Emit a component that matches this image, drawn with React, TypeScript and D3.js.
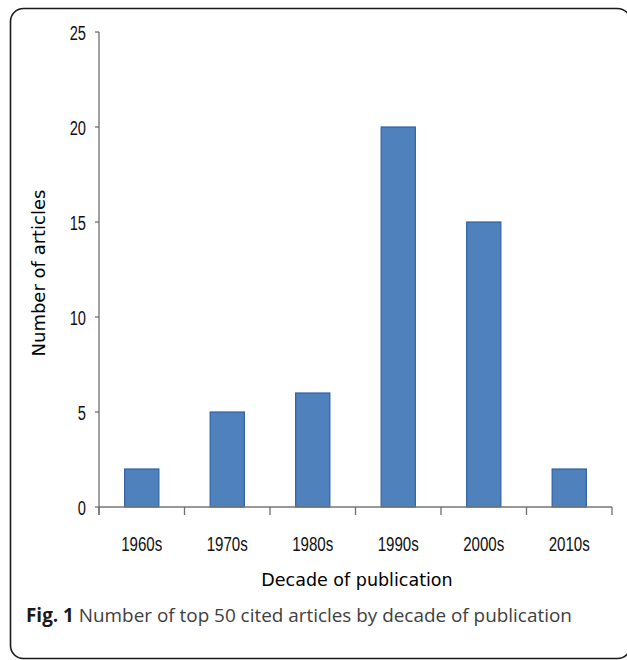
import React from "react";
import * as d3 from "d3";

const categories = ["1960s", "1970s", "1980s", "1990s", "2000s", "2010s"];
const counts = [2, 5, 6, 20, 15, 2];
const yTicks = [0, 5, 10, 15, 20, 25];
const yTitle = "Number of articles";
const xTitle = "Decade of publication";
const captionBold = "Fig. 1";
const captionText = " Number of top 50 cited articles by decade of publication";

export default function App() {
  const W = 627;
  const H = 660;
  const left = 99;
  const right = 612;
  const top = 32;
  const bottom = 507;

  const x = d3.scaleBand<string>().domain(categories).range([left, right]).padding(0);
  const y = d3.scaleLinear().domain([0, 25]).range([bottom, top]);
  const bw = x.bandwidth();
  const barW = bw * 0.4;

  const boundaries = categories.map((c) => x(c) as number).concat([right]);

  return (
    <div style={{ position: "absolute", left: 0, top: 0 }}>
      <svg width={W} height={H} style={{ display: "block", background: "#fff" }}>
        <rect x={10.5} y={8.5} width={620} height={650} rx={13} ry={13} fill="none" stroke="#1a1a1a" strokeWidth={1.6} />

        {/* bars */}
        {categories.map((c, i) => {
          const bx = (x(c) as number) + (bw - barW) / 2;
          const by = y(counts[i]);
          return (
            <rect key={c} x={bx} y={by} width={barW} height={y(0) - by} fill="#4F81BD" stroke="#2E62A6" strokeWidth={1.2} />
          );
        })}

        {/* y axis */}
        <line x1={left} x2={left} y1={top} y2={bottom + 8} stroke="#6e6e6e" strokeWidth={1.3} />
        {yTicks.map((t) => (
          <g key={t}>
            <line x1={left - 4} x2={left} y1={y(t)} y2={y(t)} stroke="#6e6e6e" strokeWidth={1.3} />
            <text
              transform={`translate(${left - 13},${y(t) + 7.5}) scale(0.7,1)`}
              textAnchor="end"
              fontFamily="Liberation Sans, Arial, sans-serif"
              fontSize={21}
              fill="#111"
            >
              {t}
            </text>
          </g>
        ))}

        {/* x axis */}
        <line x1={left} x2={right} y1={bottom} y2={bottom} stroke="#7a7570" strokeWidth={1.3} />
        {boundaries.map((bx, i) => (
          <line key={i} x1={bx} x2={bx} y1={bottom} y2={bottom + 8} stroke="#6e6e6e" strokeWidth={1.3} />
        ))}
        {categories.map((c) => (
          <text
            key={c}
            transform={`translate(${(x(c) as number) + bw / 2},${bottom + 44}) scale(0.72,1)`}
            textAnchor="middle"
            fontFamily="Liberation Sans, Arial, sans-serif"
            fontSize={21}
            fill="#111"
          >
            {c}
          </text>
        ))}

        {/* axis titles */}
        <text
          transform={`translate(45,273) rotate(-90)`}
          textAnchor="middle"
          fontFamily="DejaVu Sans, Verdana, sans-serif"
          fontSize={18}
          fill="#000"
        >
          {yTitle}
        </text>
        <text
          x={357}
          y={586}
          textAnchor="middle"
          fontFamily="DejaVu Sans, Verdana, sans-serif"
          fontSize={17.5}
          fill="#000"
        >
          {xTitle}
        </text>

        {/* caption */}
        <text x={26} y={622} fontFamily="Open Sans, sans-serif" fontSize={18.9}>
          <tspan fontWeight="bold" fill="#1a1a1a">{captionBold}</tspan>
          <tspan fill="#404040">{captionText}</tspan>
        </text>
      </svg>
    </div>
  );
}
